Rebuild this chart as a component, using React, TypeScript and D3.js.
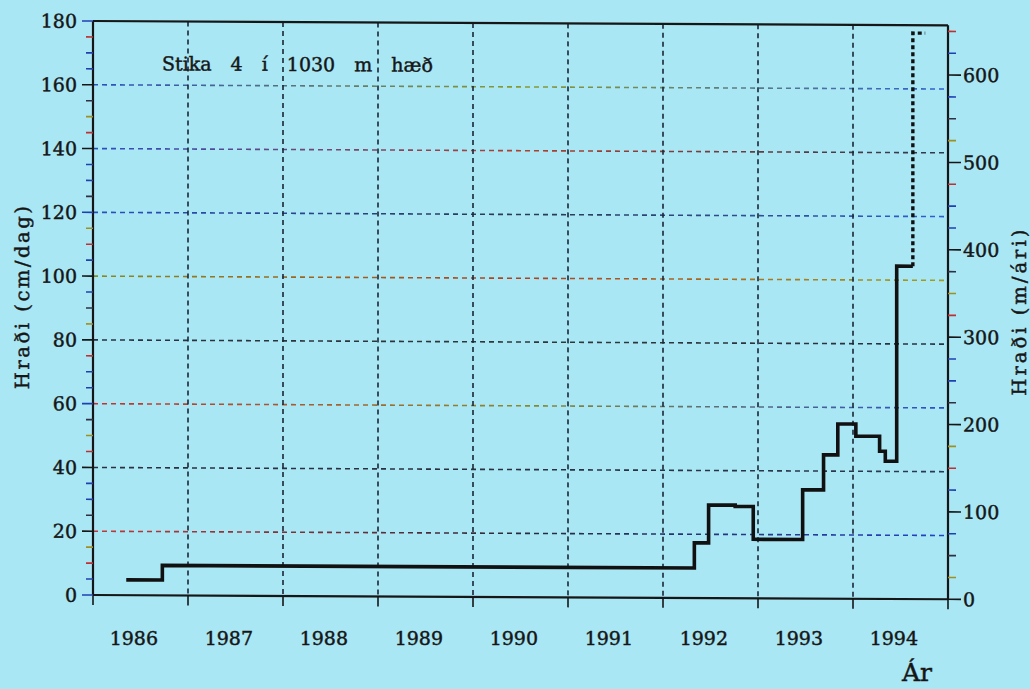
import React from 'react';
import * as d3 from 'd3';

// year labels (each label sits under its own year interval)
const years = [1986, 1987, 1988, 1989, 1990, 1991, 1992, 1993, 1994];

// velocity steps: start of each period (decimal year) and speed in cm/day
const stepStarts = [1986.35, 1986.73, 1992.33, 1992.48, 1992.76, 1992.95, 1993.47, 1993.69, 1993.84, 1994.03, 1994.28, 1994.34, 1994.46];
const speedCmDay = [4.8, 9.4, 17.3, 29.2, 28.8, 18.5, 34.1, 45.1, 54.8, 51.0, 46.3, 43.2, 104.4];
const stepEnd = 1994.63;

// last (uncertain) period, drawn dotted
const estimateEnd = 1994.76;
const estimateCmDay = 177.5;

const leftTicks = [0, 20, 40, 60, 80, 100, 120, 140, 160, 180];
const rightTicks = [0, 100, 200, 300, 400, 500, 600];

const titleText = 'Stika 4 í 1030 m hæð';
const leftTitle = 'Hraði (cm/dag)';
const rightTitle = 'Hraði (m/ári)';
const xTitle = 'Ár';

const cmDayToMYear = 3.65;

// scan tints of the dashed grid lines (left, middle, right)
const gridTints: Record<number, string[]> = {
  20: ['#c43838', '#2a2a3a', '#2244c8'],
  40: ['#2a3040', '#2a3040', '#2a3a50'],
  60: ['#c43030', '#8a8a30', '#2a50c8'],
  80: ['#2a3040', '#30383a', '#2a3040'],
  100: ['#8a8a20', '#b04020', '#a0a020'],
  120: ['#2a50c0', '#2a3a50', '#3060d0'],
  140: ['#2a50c0', '#b04030', '#2a3a50'],
  160: ['#2a50c0', '#8a9a30', '#3060d0'],
};
const tickTints = ['#2040b0', '#c03030', '#a09020', '#303040', '#2040b0'];

const W = 1030;
const H = 689;
const x0 = 93;
const x1 = 948;
const yBottom = 595;
const yTop = 21;
const shear = 0.005;
const font = "'DejaVu Serif', 'Liberation Serif', serif";
const ink = '#161616';
const textStyle = { fontFamily: font, fill: ink, stroke: ink, strokeWidth: 0.45 };

export default function App() {
  const x = d3.scaleLinear().domain([1986, 1995]).range([x0, x1]);
  const y = d3.scaleLinear().domain([0, 180]).range([yBottom, yTop]);
  const yR = d3.scaleLinear().domain([0, 180 * cmDayToMYear]).range([yBottom, yTop]);

  const stepPts: [number, number][] = stepStarts.map((s, i) => [s, speedCmDay[i]]);
  stepPts.push([stepEnd, speedCmDay[speedCmDay.length - 1]]);
  const stepLine = d3.line<[number, number]>()
    .x((d) => x(d[0]))
    .y((d) => y(d[1]))
    .curve(d3.curveStepAfter);

  const estPts: [number, number][] = [
    [stepEnd, speedCmDay[speedCmDay.length - 1]],
    [stepEnd, estimateCmDay],
    [estimateEnd, estimateCmDay],
  ];
  const estLine = d3.line<[number, number]>().x((d) => x(d[0])).y((d) => y(d[1]));

  const leftMinor = d3.range(0, 181, 5).filter((v) => v % 20 !== 0);
  const rightMinor = d3.range(0, 180 * cmDayToMYear, 25).filter((v) => v % 100 !== 0);
  const gridYears = years.slice(1);
  const gridValues = leftTicks.slice(1, -1);

  return (
    <div style={{ position: 'absolute', left: 0, top: 0, width: W, height: H, background: '#a9e7f5', overflow: 'hidden' }}>
      <svg width={W} height={H} style={{ display: 'block' }}>
        <defs>
          {gridValues.map((v) => (
            <linearGradient key={v} id={`g${v}`} gradientUnits="userSpaceOnUse" x1={x0} x2={x1} y1={0} y2={0}>
              <stop offset="0" stopColor={gridTints[v][0]} />
              <stop offset="0.5" stopColor={gridTints[v][1]} />
              <stop offset="1" stopColor={gridTints[v][2]} />
            </linearGradient>
          ))}
        </defs>
        <g transform={`matrix(1, ${shear}, 0, 1, 0, ${-shear * x0})`}>
          {/* horizontal grid */}
          {gridValues.map((v) => (
            <line key={v} x1={x0} x2={x1} y1={y(v)} y2={y(v)}
              stroke={`url(#g${v})`} strokeWidth={1.6} strokeDasharray="5,4" />
          ))}
          {/* vertical grid */}
          {gridYears.map((yr) => (
            <line key={yr} x1={x(yr)} x2={x(yr)} y1={y(180)} y2={y(0)}
              stroke="#1c2636" strokeWidth={1.6} strokeDasharray="5,4" />
          ))}

          {/* frame */}
          <line x1={x0} x2={x1} y1={y(180)} y2={y(180)} stroke={ink} strokeWidth={2.2} />
          <line x1={x0} x2={x1} y1={y(0)} y2={y(0)} stroke={ink} strokeWidth={2.2} />
          <line x1={x0} x2={x0} y1={y(0)} y2={y(180)} stroke={ink} strokeWidth={2.2} />
          <line x1={x1} x2={x1} y1={y(0)} y2={y(180)} stroke={ink} strokeWidth={2.2} />

          {/* x ticks */}
          {[1986, ...gridYears, 1995].map((yr) => (
            <line key={yr} x1={x(yr)} x2={x(yr)} y1={y(0)} y2={y(0) + 10} stroke={ink} strokeWidth={1.6} />
          ))}

          {/* left axis ticks */}
          {leftMinor.map((v, i) => (
            <line key={v} x1={x0 - 7} x2={x0} y1={y(v)} y2={y(v)} stroke={tickTints[i % tickTints.length]} strokeWidth={1.6} />
          ))}
          {leftTicks.map((v, i) => (
            <g key={v}>
              <line x1={x0 - 11} x2={x0} y1={y(v)} y2={y(v)} stroke={i % 3 === 0 ? '#2040b0' : ink} strokeWidth={1.6} />
              <text x={x0 - 16} y={y(v)} dy="0.36em" textAnchor="end" fontSize={19} style={textStyle}>{v}</text>
            </g>
          ))}

          {/* right axis ticks */}
          {rightMinor.map((v, i) => (
            <line key={v} x1={x1} x2={x1 + 8} y1={yR(v)} y2={yR(v)} stroke={tickTints[(i + 2) % tickTints.length]} strokeWidth={1.6} />
          ))}
          {rightTicks.map((v) => (
            <g key={v}>
              <line x1={x1} x2={x1 + 13} y1={yR(v)} y2={yR(v)} stroke={ink} strokeWidth={1.6} />
              <text x={x1 + 15} y={yR(v)} dy="0.36em" textAnchor="start" fontSize={19} style={textStyle}>{v}</text>
            </g>
          ))}

          {/* data */}
          <path d={stepLine(stepPts) || ''} fill="none" stroke="#111" strokeWidth={3.6} strokeLinejoin="miter" />
          <path d={estLine(estPts) || ''} fill="none" stroke="#111" strokeWidth={3.4} strokeDasharray="4,3" />

          {/* title */}
          <text x={162} y={70} fontSize={19} wordSpacing={13} style={textStyle}>{titleText}</text>

          {/* axis titles */}
          <text transform={`translate(29, 298) rotate(-90)`} textAnchor="middle" fontSize={19.5}
            textLength={183} lengthAdjust="spacing" style={textStyle}>{leftTitle}</text>
          <text transform={`translate(1026, 308) rotate(-90)`} textAnchor="middle" fontSize={19.5}
            textLength={166} lengthAdjust="spacing" style={textStyle}>{rightTitle}</text>
        </g>

        {/* year labels */}
        {years.map((yr) => (
          <text key={yr} x={x(yr + 0.43)} y={645} textAnchor="middle" fontSize={19} style={textStyle}>{yr}</text>
        ))}
        <text x={902} y={681} fontSize={25} style={textStyle}>{xTitle}</text>
      </svg>
    </div>
  );
}
